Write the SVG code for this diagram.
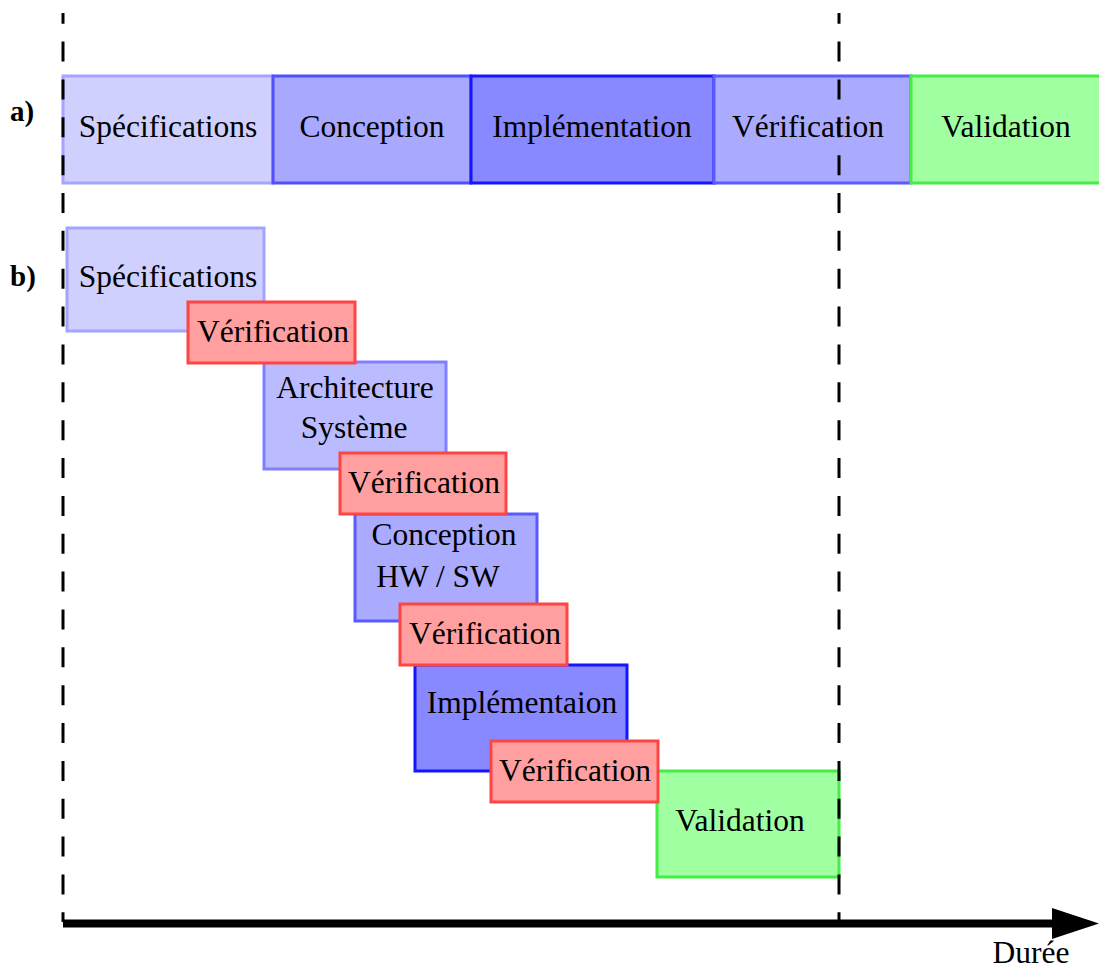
<svg xmlns="http://www.w3.org/2000/svg" width="1099" height="969" viewBox="0 0 1099 969" font-family="'Liberation Serif', 'Times New Roman', 'DejaVu Serif', serif">
  <style>
    text { font-family: "Liberation Serif", "Times New Roman", "DejaVu Serif", serif; font-size: 31.5px; fill: #000; text-anchor: middle; }
    .lbl { font-weight: bold; font-size: 29px; text-anchor: start; }
    .spec { fill: #d0d0ff; stroke: #a4a4ff; stroke-width: 3; }
    .conc { fill: #a8a8ff; stroke: #4f4fff; stroke-width: 3; }
    .arch { fill: #bbbbff; stroke: #8080ff; stroke-width: 3; }
    .impl { fill: #8888ff; stroke: #1515ff; stroke-width: 3; }
    .veri { fill: #aaaaff; stroke: #5a5aff; stroke-width: 3; }
    .vred { fill: #ff9f9f; stroke: #ff4444; stroke-width: 3; }
    .vali { fill: #a0ffa0; stroke: #44ee44; stroke-width: 3; }
    .guide { stroke: #000; stroke-width: 3; stroke-dasharray: 20 17.86; stroke-dashoffset: 9.3; fill: none; }
  </style>

  <!-- row labels -->
  <text class="lbl" x="10" y="121">a)</text>
  <text class="lbl" x="10" y="286">b)</text>

  <!-- a) sequential flow -->
  <g id="a-specifications">
    <rect class="spec" x="63" y="76" width="210" height="107"/>
    <text x="168" y="137">Spécifications</text>
  </g>
  <g id="a-conception">
    <rect class="conc" x="273" y="76" width="198" height="107"/>
    <text x="372" y="137">Conception</text>
  </g>
  <g id="a-implementation">
    <rect class="impl" x="471" y="76" width="243" height="107"/>
    <text x="592" y="137">Implémentation</text>
  </g>
  <g id="a-verification">
    <rect class="veri" x="714" y="76" width="197" height="107"/>
    <text x="808" y="137">Vérification</text>
  </g>
  <g id="a-validation">
    <rect class="vali" x="911" y="76" width="192" height="107"/>
    <text x="1006" y="137">Validation</text>
  </g>

  <!-- b) overlapping flow -->
  <g id="b-specifications">
    <rect class="spec" x="67" y="228" width="197" height="103"/>
    <text x="168" y="287">Spécifications</text>
  </g>
  <g id="b-architecture">
    <rect class="arch" x="264" y="362" width="182" height="107"/>
    <text x="355" y="398">Architecture</text>
    <text x="354" y="438">Système</text>
  </g>
  <g id="b-conception">
    <rect class="veri" x="355" y="514" width="182" height="107"/>
    <text x="444" y="545">Conception</text>
    <text x="438" y="587">HW / SW</text>
  </g>
  <g id="b-implementation">
    <rect class="impl" x="415" y="665" width="212" height="106"/>
    <text x="522" y="713">Implémentaion</text>
  </g>
  <g id="b-validation">
    <rect class="vali" x="657" y="771" width="182" height="106"/>
    <text x="740" y="831">Validation</text>
  </g>
  <g id="b-verification-1">
    <rect class="vred" x="188" y="302" width="167" height="61"/>
    <text x="273" y="342">Vérification</text>
  </g>
  <g id="b-verification-2">
    <rect class="vred" x="340" y="453" width="166" height="61"/>
    <text x="424" y="493">Vérification</text>
  </g>
  <g id="b-verification-3">
    <rect class="vred" x="400" y="604" width="167" height="61"/>
    <text x="485" y="644">Vérification</text>
  </g>
  <g id="b-verification-4">
    <rect class="vred" x="491" y="741" width="167" height="61"/>
    <text x="575" y="781">Vérification</text>
  </g>

  <!-- connectors: dashed time guides and the duration axis -->
  <g id="connectors">
    <line class="guide" x1="63" y1="13" x2="63" y2="922"/>
    <line class="guide" x1="839" y1="13" x2="839" y2="922"/>
    <line x1="63" y1="923.5" x2="1054" y2="923.5" stroke="#000" stroke-width="8"/>
    <polygon points="1052,908 1099,923.5 1052,939" fill="#000"/>
  </g>
  <text x="1031" y="963">Durée</text>
</svg>
